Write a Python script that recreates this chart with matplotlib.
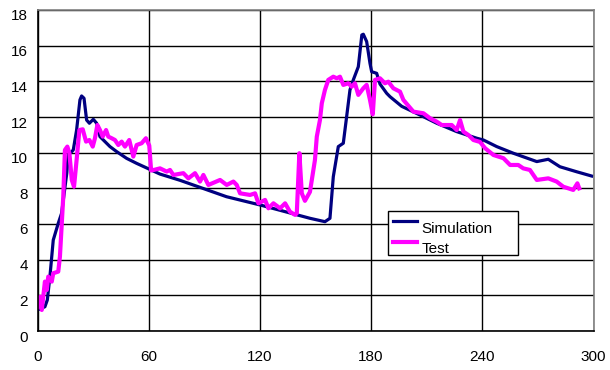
import matplotlib
matplotlib.use("Agg")
import matplotlib.pyplot as plt
import matplotlib.transforms as mtransforms

plt.rcParams['font.family'] = ['Liberation Sans', 'DejaVu Sans']

# Data
sim_x = [0, 4, 5.3, 6.7, 8.5, 11.2, 13, 15.8, 16.6, 19.3, 21.1, 22.9, 23.8, 25.1, 26.5, 28,
         30.1, 31.9, 33.7, 39.1, 42.7, 48.1, 53.5, 59.8, 66.1, 76.9, 102, 120, 147, 155.1,
         157.8, 159.6, 162.3, 165, 166.8, 168.6, 170.4, 173.1, 175, 175.8, 177.6, 179.4,
         180.3, 183, 184.8, 188.4, 190.2, 196.5, 206.4, 215.4, 226.2, 237, 240.6, 247.8,
         256.7, 269.4, 275.6, 281.9, 290.9, 299]
sim_y = [1.18, 1.36, 1.74, 3.05, 5.1, 6.04, 6.6, 8.85, 9.87, 10.15, 11.27, 12.96, 13.18, 13.05,
         11.83, 11.65, 11.87, 11.65, 10.9, 10.34, 10.06, 9.68, 9.4, 9.1, 8.8, 8.45, 7.53, 7.07,
         6.32, 6.13, 6.32, 8.65, 10.34, 10.53, 12.02, 13.52, 14.08, 14.82, 16.6, 16.64, 16.23,
         15.01, 14.54, 14.45, 13.85, 13.33, 13.14, 12.6, 12.11, 11.65, 11.18, 10.81, 10.71,
         10.34, 9.97, 9.5, 9.63, 9.21, 8.93, 8.69]

test_x = [0, 1.35, 2.3, 4, 5, 5.8, 7.7, 8.5, 11.2, 12.1, 13.9, 14.8, 16.1, 17.2, 18.5, 19.7,
          21.1, 22.6, 24.4, 26.2, 28, 29.8, 31, 32.3, 33.7, 35.2, 37, 38.2, 40, 41.8, 43.6,
          45.4, 47.2, 49.5, 51.7, 53.5, 56.2, 58.5, 60.3, 61.3, 63.5, 66.1, 69.7, 71.5, 73.3,
          78.7, 81.4, 85, 87.7, 89.5, 92.2, 98.5, 102.1, 105.7, 107.5, 109.3, 114.7, 117.4,
          119.2, 122.8, 124.6, 127.3, 130.9, 133.6, 136.2, 139, 139.9, 141.3, 142.6, 144.3,
          147, 149.7, 150.7, 152.4, 153.4, 155.1, 156.9, 159.6, 161.5, 163.2, 165, 167.7,
          169.5, 171.3, 173.1, 175.8, 177.6, 179.4, 180.9, 182.1, 184.8, 187.5, 189.3, 192,
          195.6, 197.4, 202.8, 208.2, 211.8, 215.4, 218.1, 223.5, 226.2, 228, 229.8, 232.5,
          235.2, 238.8, 241.5, 246, 251.4, 255, 259.4, 262.1, 265.7, 269.4, 275.6, 280.1,
          283.7, 289.1, 291.3, 292.3]
test_y = [1.36, 1.92, 1.18, 2.77, 2.3, 3.05, 2.77, 3.24, 3.33, 4.17, 7.53, 10.15, 10.34, 9.97,
          8.47, 8.09, 9.59, 11.27, 11.31, 10.62, 10.71, 10.34, 10.81, 11.55, 11.27, 10.9, 11.27,
          10.9, 10.81, 10.71, 10.43, 10.62, 10.34, 10.71, 9.78, 10.43, 10.53, 10.81, 10.4, 9.0,
          9.05, 9.12, 8.94, 9.03, 8.75, 8.85, 8.56, 8.85, 8.38, 8.75, 8.19, 8.47, 8.19, 8.38,
          8.19, 7.72, 7.63, 7.72, 7.16, 7.35, 6.88, 7.16, 6.88, 7.16, 6.69, 6.51, 6.6, 9.97,
          7.72, 7.3, 7.8, 9.59, 10.9, 11.83, 12.77, 13.52, 14.08, 14.26, 14.17, 14.26, 13.8,
          13.89, 13.7, 13.89, 13.24, 13.61, 13.8, 12.96, 12.15, 14.08, 14.17, 13.89, 13.98,
          13.61, 13.42, 12.96, 12.3, 12.21, 11.93, 11.74, 11.55, 11.55, 11.27, 11.83, 11.18,
          10.99, 10.71, 10.6, 10.25, 9.87, 9.69, 9.31, 9.31, 9.12, 9.03, 8.47, 8.56, 8.38,
          8.09, 7.91, 8.28, 8.0]

x_ticks = [0, 60, 120, 180, 240, 300]
y_ticks = [0, 2, 4, 6, 8, 10, 12, 14, 16, 18]
series_labels = ["Simulation", "Test"]

fig = plt.figure(figsize=(6.1, 3.7), dpi=100)
ax = fig.add_axes([37.5 / 610, 39 / 370, 556 / 610, 321 / 370])

ax.plot(sim_x, sim_y, color='#000080', lw=2.3, label=series_labels[0], solid_joinstyle='round')
ax.plot(test_x, test_y, color='#FF00FF', lw=3.0, label=series_labels[1], solid_joinstyle='round')

ax.set_xlim(0, 300)
ax.set_ylim(0, 18)
ax.set_xticks(x_ticks)
ax.set_yticks(y_ticks)
ax.grid(True, color='black', lw=1)
ax.set_axisbelow(True)
ax.tick_params(axis='both', length=0, labelsize=11)
ax.tick_params(axis='x', pad=14)
ax.tick_params(axis='y', pad=7)
for s in ['left', 'bottom']:
    ax.spines[s].set_color('black')
    ax.spines[s].set_linewidth(1.2)
for s in ['top', 'right']:
    ax.spines[s].set_color('#808080')
    ax.spines[s].set_linewidth(1.2)

offset = mtransforms.ScaledTranslation(0, -0.05, fig.dpi_scale_trans)
for lab in ax.get_yticklabels():
    lab.set_transform(lab.get_transform() + offset)

leg = ax.legend(loc='upper left',
                bbox_to_anchor=(388.3 / 610, (370 - 211) / 370, 130 / 610, 0.0),
                bbox_transform=fig.transFigure, mode='expand', fancybox=False,
                edgecolor='black', framealpha=1, fontsize=11, handlelength=1.6,
                handletextpad=0.25, borderpad=0.3, labelspacing=0.45, borderaxespad=0)
leg.get_frame().set_linewidth(1.0)
text_shift = mtransforms.ScaledTranslation(0, -0.06, fig.dpi_scale_trans)
for t in leg.get_texts():
    t.set_transform(t.get_transform() + text_shift)

fig.savefig('out.png', dpi=100)
